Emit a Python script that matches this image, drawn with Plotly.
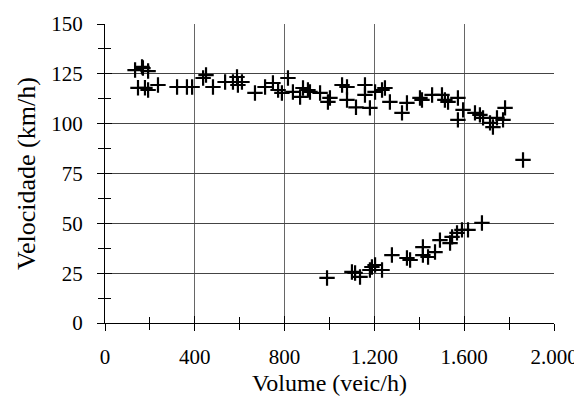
import plotly.graph_objects as go

# ramo superior (fluxo livre)
vol_livre = [134, 165, 169, 192, 147, 178, 192, 236, 321, 365, 388, 437, 450, 481,
             535, 570, 588, 592, 610, 668, 713, 748, 771, 788, 815, 837, 869, 882,
             904, 913, 958, 993, 1002, 1056, 1078, 1078, 1118, 1158, 1158, 1180,
             1203, 1234, 1247, 1269, 1323, 1345, 1403, 1412, 1457, 1501, 1514,
             1528, 1572, 1595, 1572, 1648, 1670, 1684, 1715, 1728, 1746, 1773,
             1782, 1862]
vel_livre = [126.9, 128.5, 127.9, 126.4, 118.0, 118.0, 116.9, 119.4, 118.4, 118.4,
             118.4, 122.9, 124.4, 118.4, 120.9, 120.9, 123.4, 119.4, 120.9, 115.4,
             118.4, 120.4, 116.9, 115.4, 122.9, 115.9, 113.4, 117.9, 116.9, 115.9,
             115.4, 110.9, 112.9, 119.4, 118.4, 111.9, 108.2, 119.4, 114.4, 107.9,
             115.9, 116.9, 117.9, 110.9, 105.4, 110.4, 112.9, 111.9, 114.4, 114.4,
             111.9, 110.9, 112.9, 106.9, 101.9, 105.4, 104.4, 102.9, 100.4, 98.3,
             102.9, 101.9, 107.9, 81.8]

# ramo inferior (congestionado)
vol_cong = [989, 1100, 1114, 1136, 1180, 1189, 1203, 1234, 1278, 1345, 1359, 1416,
            1416, 1439, 1470, 1492, 1537, 1546, 1568, 1590, 1617, 1679]
vel_cong = [22.6, 25.6, 25.1, 23.1, 26.6, 28.1, 29.1, 26.6, 34.1, 32.6, 31.6, 38.1,
            34.1, 33.1, 35.6, 41.6, 40.1, 43.2, 45.2, 46.7, 46.7, 50.2]

x_ticks = [0, 400, 800, 1200, 1600, 2000]
y_ticks = [0, 25, 50, 75, 100, 125, 150]

fnt = "Liberation Serif"

fig = go.Figure()
fig.add_trace(go.Scatter(
    x=vol_livre + vol_cong, y=vel_livre + vel_cong, mode='markers',
    marker=dict(symbol='cross-thin', size=11, line=dict(width=2.2, color='black'), color='black'),
    showlegend=False))
# invisible trace to activate overlay axes
fig.add_trace(go.Scatter(x=[0], y=[0], xaxis='x2', yaxis='y2', mode='markers',
                         marker=dict(opacity=0), showlegend=False, hoverinfo='skip'))

fig.update_layout(
    width=574, height=395,
    margin=dict(l=97, r=28, t=16, b=80),
    plot_bgcolor='white', paper_bgcolor='white',
    separators=',.',
    font=dict(family=fnt, size=21, color='black'),
    xaxis=dict(range=[0, 2000], tickvals=x_ticks, tickformat=',d', ticks='outside',
               ticklen=7, tickcolor='black', tickwidth=1.2,
               minor=dict(dtick=200, ticks='outside', ticklen=6, tickcolor='black'),
               showline=True, linecolor='black', linewidth=1.2,
               showgrid=True, gridcolor='#666', gridwidth=1.4, zeroline=False,
               ticklabelstandoff=8, automargin=False,
               title=dict(text='Volume (veic/h)', font=dict(size=24), standoff=5)),
    yaxis=dict(range=[0, 150], tickvals=y_ticks, ticks='outside', ticklen=7,
               tickcolor='black', tickwidth=1.2,
               minor=dict(dtick=12.5, ticks='outside', ticklen=6, tickcolor='black'),
               showline=True, linecolor='black', linewidth=1.2,
               showgrid=True, gridcolor='#444', gridwidth=1.4, zeroline=False,
               ticklabelstandoff=10, automargin=False,
               title=dict(text='Velocidade (km/h)', font=dict(size=26), standoff=8)),
    xaxis2=dict(overlaying='x', matches='x', tickvals=x_ticks, ticks='inside',
                ticklen=7, tickcolor='black', tickwidth=1.2, showticklabels=False,
                minor=dict(dtick=200, ticks='inside', ticklen=6, tickcolor='black'),
                showgrid=False, zeroline=False, anchor='y2', automargin=False),
    yaxis2=dict(overlaying='y', matches='y', tickvals=y_ticks, ticks='inside',
                ticklen=7, tickcolor='black', tickwidth=1.2, showticklabels=False,
                minor=dict(dtick=12.5, ticks='inside', ticklen=6, tickcolor='black'),
                showgrid=False, zeroline=False, anchor='x2', automargin=False),
)

fig.write_html("out.html")
